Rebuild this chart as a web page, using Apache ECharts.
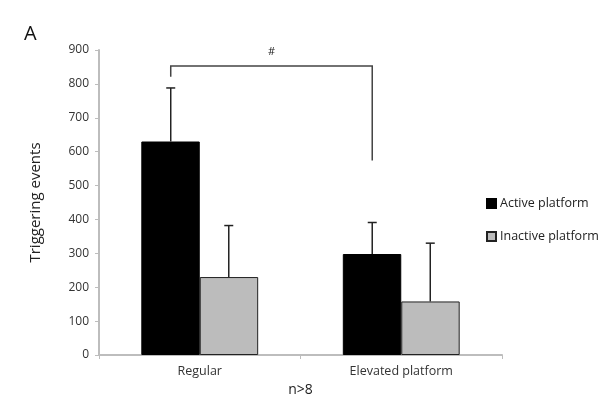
<!DOCTYPE html>
<html>
<head>
<meta charset="utf-8">
<script src="https://cdn.jsdelivr.net/npm/echarts@6/dist/echarts.min.js"></script>
<style>
  html, body { margin: 0; padding: 0; background: #fff; }
  #chart { width: 604px; height: 406px; }
</style>
</head>
<body>
<div id="chart"></div>
<script>
// data
var categories = ['Regular', 'Elevated platform'];
var activeMean = [630, 298];
var activeErr = [158, 93];
var inactiveMean = [230, 158];
var inactiveErr = [152, 172];
// bracket: [top, left foot, right foot] in axis units
var bracketY = [853, 821, 574];

var myChart = echarts.init(document.getElementById('chart'));
var FONT = 'Open Sans';
var BAR_OFFSET = 0.144; // bar centre offset as fraction of band width

function errorBar(offsetSign) {
    return function (params, api) {
        var cat = api.value(0);
        var top = api.coord([cat, api.value(1) + api.value(2)]);
        var base = api.coord([cat, api.value(1)]);
        var band = api.size([1, 0])[0];
        var x = base[0] + offsetSign * band * BAR_OFFSET;
        var style = { stroke: '#222', lineWidth: 1.5 };
        return {
            type: 'group',
            children: [
                { type: 'line', shape: { x1: x, y1: base[1], x2: x, y2: top[1] }, style: style },
                { type: 'line', shape: { x1: x - 4.5, y1: top[1], x2: x + 4.5, y2: top[1] }, style: style }
            ]
        };
    };
}

var option = {
    animation: false,
    textStyle: { fontFamily: FONT },
    title: {
        text: 'A',
        left: 19,
        top: 19,
        textStyle: { fontFamily: FONT, fontSize: 20, fontWeight: 'normal', color: '#111' }
    },
    legend: {
        orient: 'vertical',
        left: 481,
        top: 192,
        itemWidth: 9,
        itemHeight: 9,
        itemGap: 20,
        icon: 'rect',
        textStyle: { fontFamily: FONT, fontSize: 12.5, color: '#222', padding: [0, 0, 0, -1] },
        data: ['Active platform', 'Inactive platform']
    },
    grid: { left: 99, right: 102, top: 50, bottom: 51 },
    xAxis: {
        type: 'category',
        data: categories,
        name: 'n>8',
        nameLocation: 'middle',
        nameGap: 27,
        nameTextStyle: { fontFamily: FONT, fontSize: 14, color: '#222' },
        axisLine: { lineStyle: { color: '#bdbdbd', width: 2 } },
        axisTick: { show: true, length: 4, lineStyle: { color: '#bdbdbd' } },
        axisLabel: { fontFamily: FONT, fontSize: 12.5, color: '#333', margin: 10 }
    },
    yAxis: {
        type: 'value',
        min: 0,
        max: 900,
        interval: 100,
        name: 'Triggering events',
        nameLocation: 'middle',
        nameGap: 56,
        nameTextStyle: { fontFamily: FONT, fontSize: 15, color: '#222' },
        splitLine: { show: false },
        axisLine: { show: true, lineStyle: { color: '#bdbdbd', width: 2 } },
        axisTick: { show: true, length: 4, lineStyle: { color: '#bdbdbd' } },
        axisLabel: { fontFamily: FONT, fontSize: 12, color: '#333', margin: 10 }
    },
    series: [
        {
            name: 'Active platform',
            type: 'bar',
            data: activeMean,
            barGap: '0%',
            barCategoryGap: '42%',
            itemStyle: { color: '#000', borderColor: '#000', borderWidth: 1 }
        },
        {
            name: 'Inactive platform',
            type: 'bar',
            data: inactiveMean,
            itemStyle: { color: '#bcbcbc', borderColor: '#222', borderWidth: 1 }
        },
        {
            type: 'custom',
            name: 'activeErr',
            renderItem: errorBar(-1),
            data: categories.map(function (c, i) { return [i, activeMean[i], activeErr[i]]; }),
            z: 5
        },
        {
            type: 'custom',
            name: 'inactiveErr',
            renderItem: errorBar(1),
            data: categories.map(function (c, i) { return [i, inactiveMean[i], inactiveErr[i]]; }),
            z: 5
        },
        {
            type: 'custom',
            name: 'bracket',
            renderItem: function (params, api) {
                var band = api.size([1, 0])[0];
                var l = api.coord([0, api.value(0)]);
                var r = api.coord([1, api.value(0)]);
                var lx = l[0] - band * BAR_OFFSET;
                var rx = r[0] - band * BAR_OFFSET;
                var lFoot = api.coord([0, api.value(1)])[1];
                var rFoot = api.coord([1, api.value(2)])[1];
                return {
                    type: 'group',
                    children: [
                        {
                            type: 'polyline',
                            shape: { points: [[lx, lFoot], [lx, l[1]], [rx, r[1]], [rx, rFoot]] },
                            style: { stroke: '#444', lineWidth: 1.5, fill: null }
                        },
                        {
                            type: 'text',
                            style: {
                                text: '#', x: (lx + rx) / 2, y: l[1] - 9,
                                align: 'center', verticalAlign: 'bottom',
                                fontFamily: FONT, fontSize: 11, fill: '#222'
                            }
                        }
                    ]
                };
            },
            data: [bracketY],
            z: 5
        }
    ]
};
myChart.setOption(option);
</script>
</body>
</html>
